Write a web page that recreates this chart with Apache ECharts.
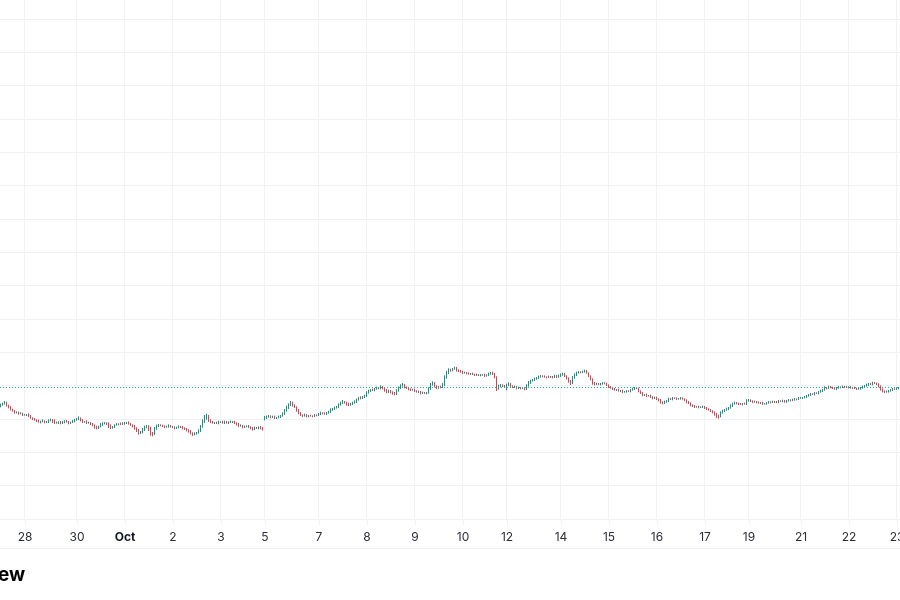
<!DOCTYPE html>
<html>
<head>
<meta charset="utf-8">
<title>Hourly candles</title>
<script src="https://cdn.jsdelivr.net/npm/echarts@6/dist/echarts.min.js"></script>
<style>
  html, body { margin: 0; padding: 0; background: #fff; }
  #chart { width: 900px; height: 600px; }
</style>
</head>
<body>
<div id="chart"></div>
<script>
// trading sessions: [label shown at session start, number of hourly bars]
const sessions = [
  ['', 12], ['28', 26], ['30', 24], ['Oct', 24], ['2', 24], ['3', 22], ['5', 27],
  ['7', 24], ['8', 24], ['9', 24], ['10', 22], ['12', 27], ['14', 24], ['15', 24],
  ['16', 24], ['17', 22], ['19', 26], ['21', 24], ['22', 24], ['23', 4]
]

// hourly closes
const closes = [
  5042, 5046, 5049, 5041, 5035, 5028, 5025, 5019, 5020, 5016, 5017, 5012,
  5012, 5013, 5009, 5003, 5000, 4997, 4994, 4991, 4992, 4994, 4990, 4991, 4995, 4998, 4993, 4988, 4989, 4991, 4987, 4990, 4994, 4991, 4988, 4990, 4993, 4997,
  5000, 5003, 4997, 4991, 4992, 4988, 4989, 4985, 4982, 4976, 4973, 4977, 4982, 4986, 4988, 4987, 4979, 4973, 4976, 4982, 4985, 4984, 4986, 4985,
  4988, 4989, 4985, 4982, 4979, 4973, 4967, 4958, 4959, 4967, 4976, 4979, 4970, 4958, 4955, 4970, 4979, 4982, 4980, 4979, 4976, 4977, 4980, 4976,
  4976, 4973, 4974, 4977, 4976, 4973, 4970, 4967, 4964, 4958, 4955, 4956, 4958, 4964, 4976, 4991, 5003, 5009, 4997, 4991, 4988, 4989, 4987, 4991,
  4991, 4988, 4992, 4988, 4990, 4992, 4991, 4988, 4985, 4979, 4980, 4976, 4977, 4979, 4976, 4973, 4970, 4973, 4972, 4976, 4973, 4970,
  5003, 5006, 5009, 5005, 5007, 5003, 5004, 5006, 5009, 5015, 5024, 5033, 5042, 5048, 5041, 5036, 5027, 5018, 5012, 5009, 5012, 5008, 5010, 5009, 5008, 5012, 5011,
  5015, 5018, 5017, 5015, 5018, 5021, 5027, 5030, 5033, 5036, 5042, 5048, 5051, 5050, 5045, 5042, 5045, 5048, 5051, 5057, 5063, 5062, 5066, 5069,
  5078, 5084, 5087, 5086, 5090, 5093, 5092, 5096, 5093, 5087, 5081, 5084, 5081, 5078, 5075, 5084, 5093, 5099, 5102, 5096, 5093, 5090, 5087, 5088,
  5084, 5081, 5082, 5078, 5079, 5077, 5078, 5090, 5102, 5108, 5099, 5093, 5096, 5095, 5102, 5123, 5138, 5147, 5146, 5150, 5153, 5147, 5144, 5141,
  5138, 5139, 5137, 5135, 5136, 5134, 5132, 5133, 5131, 5132, 5133, 5129, 5132, 5135, 5138, 5135, 5126, 5093, 5099, 5102, 5099, 5098,
  5102, 5105, 5099, 5096, 5097, 5093, 5094, 5092, 5093, 5090, 5099, 5108, 5114, 5117, 5120, 5123, 5126, 5129, 5128, 5126, 5125, 5127, 5126, 5125, 5129, 5126, 5129,
  5132, 5135, 5129, 5123, 5114, 5108, 5123, 5132, 5138, 5141, 5140, 5142, 5144, 5138, 5129, 5120, 5108, 5105, 5106, 5104, 5105, 5108, 5107, 5102,
  5096, 5093, 5090, 5087, 5088, 5084, 5085, 5081, 5082, 5084, 5083, 5087, 5090, 5093, 5092, 5084, 5078, 5072, 5073, 5069, 5070, 5066, 5063, 5064,
  5060, 5057, 5051, 5048, 5051, 5054, 5060, 5059, 5063, 5062, 5060, 5061, 5063, 5060, 5057, 5051, 5048, 5042, 5039, 5036, 5037, 5035, 5036, 5037,
  5033, 5030, 5027, 5024, 5021, 5015, 5009, 5008, 5018, 5024, 5027, 5030, 5033, 5039, 5045, 5048, 5047, 5045, 5044, 5046, 5045, 5054,
  5057, 5054, 5051, 5052, 5050, 5048, 5049, 5045, 5046, 5048, 5051, 5050, 5052, 5051, 5050, 5054, 5053, 5055, 5051, 5054, 5057, 5056, 5058, 5060, 5059, 5063,
  5063, 5064, 5066, 5069, 5072, 5075, 5074, 5078, 5077, 5081, 5084, 5087, 5093, 5092, 5096, 5095, 5093, 5090, 5093, 5096, 5095, 5097, 5096, 5095,
  5096, 5093, 5094, 5092, 5090, 5091, 5093, 5096, 5099, 5102, 5105, 5104, 5108, 5107, 5105, 5099, 5090, 5084, 5081, 5082, 5084, 5087, 5090, 5089,
  5092, 5094
]

// opens that do not follow the previous close (first bar, weekend gap)
const gapOpens = [[0, 5038], [132, 4999]]

// wick lengths above / below the body
const wickHi = [
  4,3,5,3,2,4,3,2,3,2,3,2,
  3,2,4,3,2,3,2,4,3,5,2,3,4,3,2,6,3,2,3,4,2,3,3,2,4,3,
  3,5,2,3,2,4,3,2,3,2,4,3,6,4,3,2,3,5,3,2,3,2,3,4,
  3,2,4,3,2,3,2,3,5,6,4,3,2,7,3,6,4,3,2,3,2,3,4,2,
  3,2,3,4,2,3,2,3,2,3,2,4,3,5,6,8,9,7,3,2,3,2,3,4,
  2,4,3,2,3,3,2,3,2,3,4,2,3,2,3,2,3,4,3,2,3,3,
  6,4,3,2,3,3,2,4,3,5,6,7,5,6,4,3,2,3,3,2,4,3,2,3,2,3,2,
  3,4,2,3,3,4,5,3,4,3,5,4,6,3,2,4,3,4,5,4,3,5,3,4,
  5,4,3,4,3,4,3,5,3,2,3,4,3,2,3,5,4,5,6,3,2,3,2,3,
  3,2,3,2,3,2,3,5,6,5,3,2,3,4,6,8,6,5,4,3,4,3,2,3,
  4,3,2,3,2,3,2,3,2,3,2,3,2,4,3,4,3,2,4,3,2,3,
  4,5,3,2,3,2,3,2,3,2,5,6,4,3,4,3,4,3,2,3,2,3,2,3,4,3,4,
  5,4,3,2,2,3,6,5,4,3,2,3,4,3,2,2,2,3,3,2,3,3,2,2,
  2,3,2,3,2,3,2,3,2,3,2,3,4,3,3,2,2,3,2,3,2,3,2,3,
  3,2,3,2,4,3,4,3,3,2,3,2,3,2,2,2,3,2,2,3,2,3,2,3,
  2,3,2,3,2,2,3,4,5,4,3,4,3,5,4,4,3,2,3,2,3,5,
  3,2,2,3,2,3,2,3,2,3,3,2,3,2,3,3,2,3,2,3,3,2,3,3,2,3,
  3,2,3,3,3,3,2,3,2,3,4,3,5,3,4,3,2,3,3,3,2,3,2,3,
  2,3,2,3,2,3,3,4,3,4,3,3,4,3,2,2,2,2,2,3,3,3,3,2,
  3,2
]
const wickLo = [
  3,2,3,4,3,2,3,3,2,3,2,3,
  2,3,3,2,3,2,3,2,4,2,3,2,3,2,5,3,2,4,3,2,3,2,4,3,2,3,
  2,3,4,3,2,3,2,3,4,5,4,3,2,3,2,5,6,3,2,3,2,3,2,3,
  2,3,2,3,4,5,6,5,3,2,3,4,6,8,7,3,2,3,2,3,3,2,3,2,
  3,4,3,2,3,4,3,4,5,4,6,4,3,2,3,2,3,5,6,3,2,3,2,3,
  3,2,3,2,3,2,3,3,4,3,2,4,3,2,3,4,5,3,2,3,4,5,
  3,3,2,3,2,3,3,2,3,2,3,2,3,3,4,3,5,4,3,3,2,3,3,2,3,2,3,
  2,3,3,2,3,2,3,2,3,2,3,2,3,4,5,3,2,3,2,3,2,3,2,3,
  3,2,3,2,3,2,3,3,4,5,4,3,4,5,4,3,2,3,2,4,3,4,3,2,
  3,2,3,4,3,2,3,2,3,2,4,3,2,3,2,3,2,3,4,3,2,5,3,2,
  3,2,3,2,3,2,3,3,2,3,2,3,2,3,2,3,4,9,5,4,3,3,
  12,3,4,3,3,4,3,3,2,4,3,2,3,2,3,2,3,2,3,2,3,2,3,3,2,3,2,
  3,2,3,4,5,6,3,2,3,2,3,2,3,2,3,4,5,4,3,2,3,2,3,3,
  3,2,3,2,3,2,3,3,2,3,2,3,2,3,2,4,3,4,3,3,2,3,4,3,
  3,4,5,4,3,2,3,2,3,2,3,2,3,2,3,4,3,4,3,3,2,3,2,3,
  3,3,2,3,4,5,6,7,3,2,3,2,3,2,3,2,3,3,2,3,2,3,
  2,3,3,2,3,2,3,3,2,3,2,3,2,3,2,3,2,3,2,3,2,3,2,3,3,2,
  2,3,2,3,2,3,2,3,2,3,2,3,2,3,2,3,3,2,3,2,3,2,3,2,
  3,2,3,2,3,2,3,2,3,2,3,2,3,2,3,4,5,4,3,2,3,2,3,2,
  2,3
]

const UP = '#089981'
const DOWN = '#f23645'
const GRID = '#f0f1f4'
const PRICE_LINE = '#22ab94'

// one category per hourly bar, label only at the start of a session
const categories = []
const labelAt = []
sessions.forEach(([label, count], s) => {
  for (let k = 0; k < count; k++) {
    categories.push(s + '-' + k)
    labelAt.push(k === 0 ? label : '')
  }
})
const isLabel = (i) => labelAt[i] !== ''

const gapMap = Object.fromEntries(gapOpens)
const candles = closes.map((c, i) => {
  const o = i in gapMap ? gapMap[i] : closes[i - 1]
  return [o, c, Math.min(o, c) - wickLo[i], Math.max(o, c) + wickHi[i]]
})
const lastClose = closes[closes.length - 1]

const chart = echarts.init(document.getElementById('chart'))
chart.setOption({
  animation: false,
  backgroundColor: '#fff',
  grid: { left: 0, right: -4, top: -14.333, bottom: 81, outerBoundsMode: 'none' },
  xAxis: {
    type: 'category',
    data: categories,
    boundaryGap: true,
    axisLine: { show: true, lineStyle: { color: GRID, width: 1 } },
    axisTick: { show: true, length: 6, alignWithLabel: true, interval: isLabel, lineStyle: { color: GRID } },
    axisLabel: {
      interval: isLabel,
      margin: 12,
      color: '#2a2e39',
      fontFamily: 'Inter, "Noto Sans", sans-serif',
      fontSize: 12,
      formatter: (v, i) => labelAt[i] === 'Oct' ? '{b|Oct}' : labelAt[i],
      rich: { b: { fontWeight: 'bold', color: '#131722', fontFamily: 'Inter, "Noto Sans", sans-serif', fontSize: 12 } }
    },
    splitLine: { show: true, interval: isLabel, lineStyle: { color: GRID, width: 1 } }
  },
  yAxis: {
    type: 'value',
    min: 4700,
    max: 6300,
    interval: 100,
    axisLine: { show: false },
    axisTick: { show: false },
    axisLabel: { show: false },
    splitLine: { show: true, lineStyle: { color: GRID, width: 1 } }
  },
  series: [
    {
      type: 'candlestick',
      data: candles,
      barWidth: 1.2,
      itemStyle: {
        color: UP, color0: DOWN,
        borderColor: UP, borderColor0: DOWN,
        borderWidth: 1
      }
    },
    {
      // last price line
      type: 'line',
      data: [],
      silent: true,
      color: PRICE_LINE,
      lineStyle: { color: PRICE_LINE },
      markLine: {
        silent: true,
        symbol: ['none', 'none'],
        label: { show: false },
        lineStyle: { color: PRICE_LINE, type: [1, 2], width: 1, opacity: 1 },
        emphasis: { disabled: true },
        data: [{ yAxis: lastClose }]
      }
    }
  ],
  graphic: [
    { type: 'line', shape: { x1: 0, y1: 548.5, x2: 900, y2: 548.5 }, style: { stroke: GRID, lineWidth: 1 } },
    { type: 'text', x: -2, y: 575, style: { text: 'ew', fill: '#000', font: 'bold 19px Inter, "Noto Sans", sans-serif', verticalAlign: 'middle' } }
  ]
})
</script>
</body>
</html>
